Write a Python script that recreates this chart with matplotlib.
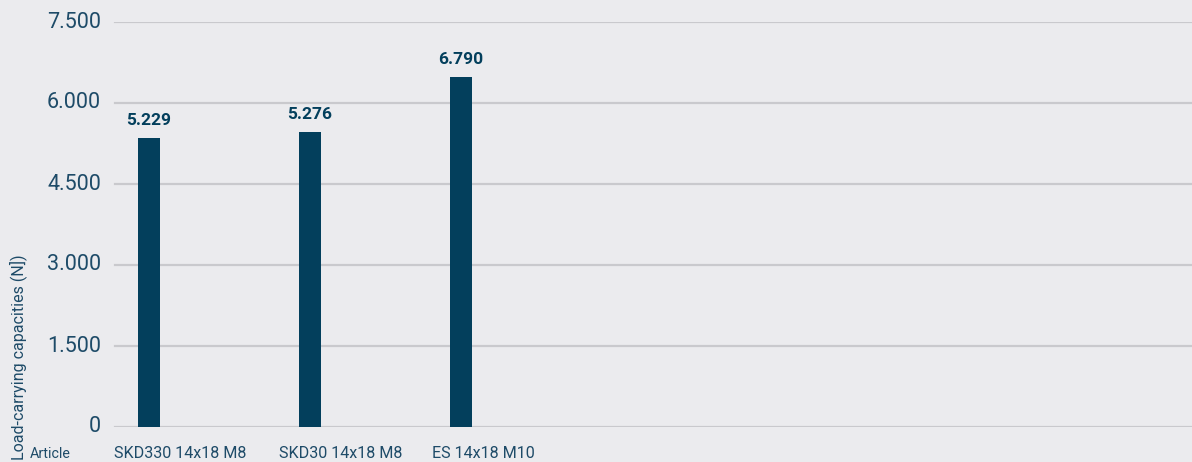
import matplotlib.pyplot as plt

# Data
articles = ['SKD330 14x18 M8', 'SKD30 14x18 M8', 'ES 14x18 M10']
bar_heights = [5350, 5460, 6480]          # drawn bar heights
value_labels = ['5.229', '5.276', '6.790']  # printed values
y_ticks = [0, 1500, 3000, 4500, 6000, 7500]
y_tick_labels = ['0', '1.500', '3.000', '4.500', '6.000', '7.500']

# Layout (pixels in a 1192 px wide axis range)
bar_x = [149, 310, 461]
label_x = [114, 279, 432]

bg = '#ebebee'
navy = '#033f5c'
text_col = '#1e4b68'
grid_col = '#c9c9cd'

plt.rcParams['font.family'] = ['Roboto', 'DejaVu Sans']

fig = plt.figure(figsize=(11.92, 4.62), dpi=100, facecolor=bg)
ax = fig.add_axes([0, 35 / 462, 1, (427 - 22) / 462])
ax.set_facecolor(bg)
ax.set_xlim(0, 1192)
ax.set_ylim(0, 7500)

for t, lab in zip(y_ticks, y_tick_labels):
    ax.plot([115, 1192], [t, t], color=grid_col, lw=1.6, zorder=1)
    ax.text(101, t, lab, ha='right', va='center', fontsize=15.5,
            color=text_col)

ax.bar(bar_x, bar_heights, width=22, color=navy, zorder=2)
for x, h, lab in zip(bar_x, bar_heights, value_labels):
    ax.text(x, h + 190, lab, ha='center', va='bottom', fontsize=12.5,
            fontweight='bold', color=navy)

for x, name in zip(label_x, articles):
    fig.text(x / 1192, 1 - 453 / 462, name, ha='left', va='center',
             fontsize=11.6, color=text_col)

fig.text(30 / 1192, 1 - 454 / 462, 'Article', ha='left', va='center',
         fontsize=10.3, color=text_col)
fig.text(18 / 1192, 2 / 462, 'Load-carrying capacities (N])', rotation=90,
         ha='center', va='bottom', fontsize=11.5, color=text_col)

ax.axis('off')
fig.savefig('out.png', dpi=100, facecolor=bg)
